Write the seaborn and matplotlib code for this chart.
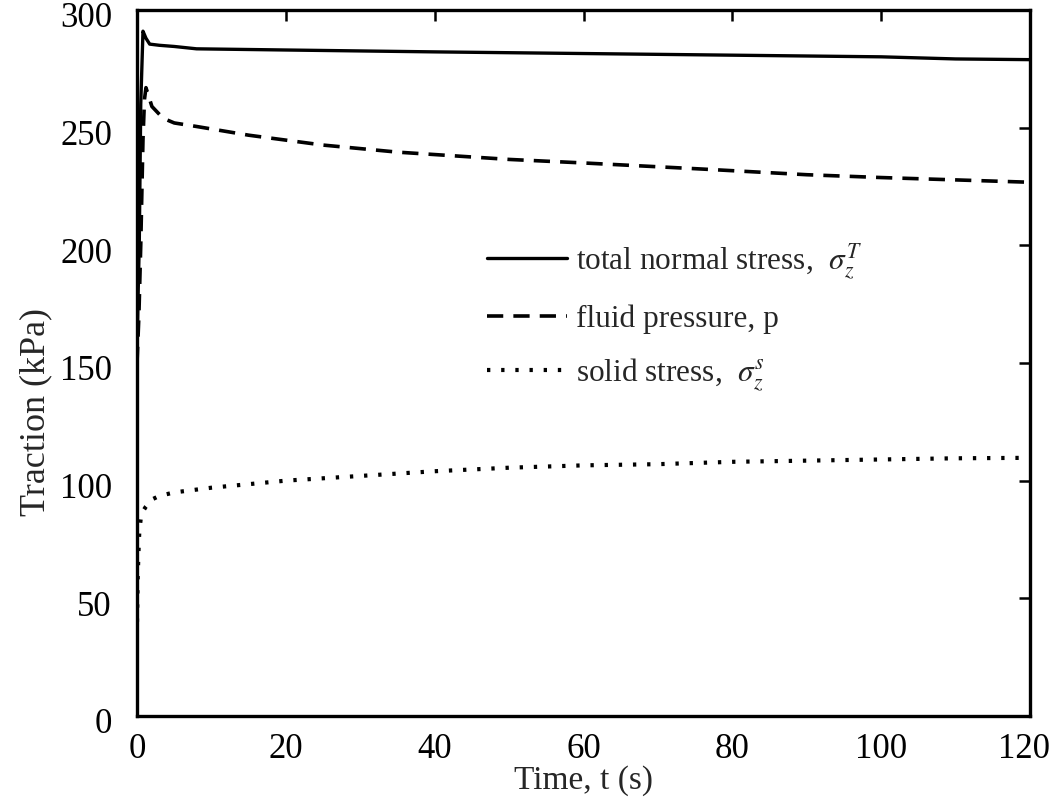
import numpy as np
import pandas as pd
import matplotlib
matplotlib.use("Agg")
import matplotlib.pyplot as plt
import matplotlib.transforms as mtransforms
import seaborn as sns

# Values
t_total = [0, 0.15, 0.3, 0.5, 0.8, 1.2, 1.7, 3, 5, 8, 20, 40, 60, 80, 100, 110, 120]
total_stress = [155, 180, 200, 260, 291, 288, 285.5, 285, 284.5, 283.5, 283, 282.2, 281.5, 280.8, 280.1, 279.2, 278.9]

t_fluid = [0, 0.25, 0.5, 0.8, 1.0, 1.2, 2, 3.5, 5, 8, 15, 25, 35, 50, 60, 76, 90, 100, 110, 120]
fluid_pressure = [150, 170, 200, 245, 262, 267, 259, 254, 252, 250.5, 246.8, 242.6, 239.6, 236.5, 235, 232.4, 230, 228.8, 227.8, 226.8]

t_solid = [0, 0.05, 0.1, 0.2, 0.3, 0.5, 0.8, 1.2, 2, 3, 5, 10, 20, 30, 40, 50, 60, 70, 80, 90, 100, 110, 120]
solid_stress = [40, 50, 60, 70, 78, 84, 87, 89, 92, 93.5, 95, 97, 100, 102, 104, 105.5, 106.5, 107, 108, 108.5, 109, 109.5, 109.7]

labels = [r"total normal stress,  $\sigma_z^T$",
          "fluid pressure, p",
          r"solid stress,  $\sigma_z^s$"]

sns.set_style("white")
plt.rcParams["font.family"] = ["Liberation Serif", "DejaVu Serif"]
plt.rcParams["mathtext.fontset"] = "stix"

fig = plt.figure(figsize=(10.5, 8.06), dpi=100)
ax = fig.add_axes([0.1305, 0.1117, 0.8505, 0.8759])

sns.lineplot(x=t_total, y=total_stress, ax=ax, color="black", lw=2.4,
             linestyle="-", label=labels[0])
sns.lineplot(x=t_fluid, y=fluid_pressure, ax=ax, color="black", lw=2.6,
             linestyle=(0, (4.5, 2.8)), label=labels[1])
sns.lineplot(x=t_solid, y=solid_stress, ax=ax, color="black", lw=3.0,
             linestyle=(0, (0.8, 2.6)), label=labels[2])

ax.set_xlim(0, 120)
ax.set_ylim(0, 300)
ax.set_xticks(np.arange(0, 121, 20))
ax.set_yticks(np.arange(0, 301, 50))
ax.tick_params(direction="in", length=8, width=1.8, top=True, right=True,
               labelsize=25, colors="black")
ax.tick_params(axis="x", pad=12)
ax.tick_params(axis="y", pad=18)
for s in ax.spines.values():
    s.set_linewidth(2.4)
    s.set_color("black")

# nudge tick labels as in the original (300 sits a bit low, 120 a bit left)
down = mtransforms.ScaledTranslation(0, -5 / 100, fig.dpi_scale_trans)
for lab in ax.get_yticklabels():
    lab.set_transform(lab.get_transform() + down)
left = mtransforms.ScaledTranslation(-6 / 100, 0, fig.dpi_scale_trans)
ax.get_xticklabels()[-1].set_transform(ax.get_xticklabels()[-1].get_transform() + left)

ax.set_xlabel("Time, t (s)", fontsize=24, labelpad=0)
ax.set_ylabel("Traction (kPa)", fontsize=26)
ax.yaxis.set_label_coords(-0.095, 0.43)

ax.legend(loc="center left", bbox_to_anchor=(0.392, 0.565), frameon=False,
          fontsize=22.5, handlelength=2.55, handletextpad=0.3, labelspacing=0.72,
          borderpad=0, borderaxespad=0)

fig.savefig("out.png", dpi=100)
